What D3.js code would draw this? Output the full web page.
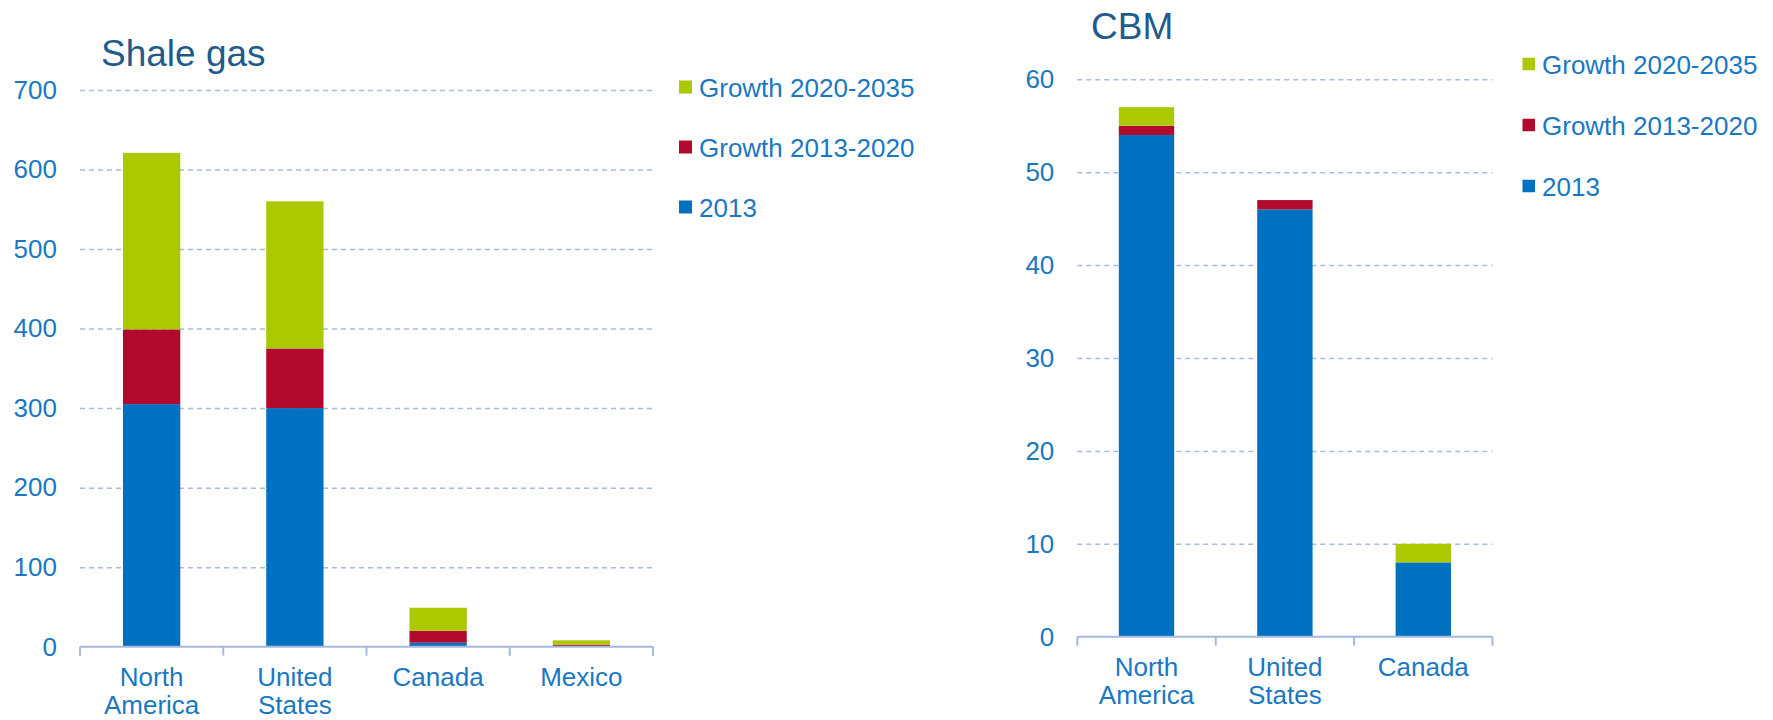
<!DOCTYPE html>
<html>
<head>
<meta charset="utf-8">
<script src="https://cdn.jsdelivr.net/npm/d3@7"></script>
<style>
  html, body { margin: 0; padding: 0; background: #ffffff; }
  svg { display: block; font-family: "Liberation Sans", Arial, sans-serif; }
</style>
</head>
<body>
<svg id="chart" width="1773" height="720"></svg>
<script>
// Series shared by both panels (stack order: bottom to top)
const seriesKeys = ["base2013", "growth1320", "growth2035"];
const seriesNames = ["2013", "Growth 2013-2020", "Growth 2020-2035"];
const seriesColors = ["#0070C0", "#B20A2F", "#ABC800"];

// Shale gas (bcm)
const shaleCategories = [["North", "America"], ["United", "States"], ["Canada"], ["Mexico"]];
const shale2013 = [305, 300, 5, 0.5];
const shaleGrowth1320 = [94, 75, 15, 2];
const shaleGrowth2035 = [222, 185, 29, 5.5];
const shaleTicks = [0, 100, 200, 300, 400, 500, 600, 700];

// Coalbed methane (bcm)
const cbmCategories = [["North", "America"], ["United", "States"], ["Canada"]];
const cbm2013 = [54, 46, 8];
const cbmGrowth1320 = [1, 1, 0];
const cbmGrowth2035 = [2, 0, 2];
const cbmTicks = [0, 10, 20, 30, 40, 50, 60];

const tickColor = "#1A78C2";
const titleColor = "#1F5B8C";
const gridColor = "#A9BADB";

const svg = d3.select("#chart");

function drawPanel(cfg) {
  const g = svg.append("g");
  const rows = cfg.categories.map((c, i) => ({
    key: c.join(" "),
    lines: c,
    base2013: cfg.v2013[i],
    growth1320: cfg.g1320[i],
    growth2035: cfg.g2035[i]
  }));

  const x = d3.scaleBand()
    .domain(rows.map(d => d.key))
    .range([cfg.left, cfg.right])
    .paddingInner(0.6)
    .paddingOuter(0.3);

  const y = d3.scaleLinear()
    .domain([0, d3.max(cfg.ticks)])
    .range([cfg.bottom, cfg.top]);

  // Dashed gridlines + tick labels
  const yAxis = g.append("g")
    .attr("transform", `translate(${cfg.left},0)`)
    .call(d3.axisLeft(y)
      .tickValues(cfg.ticks)
      .tickSize(-(cfg.right - cfg.left))
      .tickPadding(23)
      .tickFormat(d3.format("d")));
  yAxis.select(".domain").remove();
  yAxis.selectAll(".tick line")
    .attr("stroke", gridColor)
    .attr("stroke-width", 1.5)
    .attr("stroke-dasharray", "5,4")
    .attr("display", d => d === 0 ? "none" : null);
  yAxis.selectAll(".tick text")
    .attr("fill", tickColor)
    .attr("font-size", 26)
    .attr("font-family", "Liberation Sans, Arial, sans-serif");

  // Stacked bars
  const stacked = d3.stack().keys(seriesKeys)(rows);
  g.append("g").selectAll("g")
    .data(stacked)
    .join("g")
    .attr("fill", (d, i) => seriesColors[i])
    .selectAll("rect")
    .data(d => d)
    .join("rect")
    .attr("x", d => x(d.data.key))
    .attr("width", x.bandwidth())
    .attr("y", d => y(d[1]))
    .attr("height", d => Math.max(0, y(d[0]) - y(d[1])));

  // Category axis: baseline with boundary ticks
  const step = x.step();
  const axisG = g.append("g").attr("stroke", "#A6B8DC").attr("stroke-width", 2);
  axisG.append("line")
    .attr("x1", cfg.left).attr("x2", cfg.right)
    .attr("y1", y(0)).attr("y2", y(0));
  axisG.selectAll("line.bound")
    .data(d3.range(rows.length + 1))
    .join("line")
    .attr("class", "bound")
    .attr("x1", i => cfg.left + i * step)
    .attr("x2", i => cfg.left + i * step)
    .attr("y1", y(0))
    .attr("y2", y(0) + 9);

  // Category labels
  const lab = g.append("g").selectAll("text")
    .data(rows)
    .join("text")
    .attr("text-anchor", "middle")
    .attr("fill", tickColor)
    .attr("font-size", 26)
    .attr("x", d => x(d.key) + x.bandwidth() / 2)
    .attr("y", y(0) + 39.5);
  lab.selectAll("tspan")
    .data(d => d.lines.map((t, k) => ({ t, k, cx: x(d.key) + x.bandwidth() / 2 })))
    .join("tspan")
    .attr("x", d => d.cx)
    .attr("dy", d => d.k === 0 ? 0 : 28)
    .text(d => d.t);

  // Panel title
  g.append("text")
    .attr("x", cfg.titleX)
    .attr("y", cfg.titleY)
    .attr("fill", titleColor)
    .attr("font-size", 37)
    .text(cfg.title);

  // Legend (top to bottom: latest growth first)
  const legendOrder = [2, 1, 0];
  const lg = g.append("g");
  legendOrder.forEach((si, r) => {
    const cy = cfg.legendY + r * cfg.legendStep;
    lg.append("rect")
      .attr("x", cfg.legendX)
      .attr("y", cy - cfg.sq / 2)
      .attr("width", cfg.sq)
      .attr("height", cfg.sq)
      .attr("fill", seriesColors[si]);
    lg.append("text")
      .attr("x", cfg.legendX + cfg.sq + 7)
      .attr("y", cy + 9.5)
      .attr("fill", tickColor)
      .attr("font-size", 26)
      .text(seriesNames[si]);
  });
}

drawPanel({
  title: "Shale gas",
  categories: shaleCategories,
  v2013: shale2013,
  g1320: shaleGrowth1320,
  g2035: shaleGrowth2035,
  ticks: shaleTicks,
  left: 80, right: 653, top: 90, bottom: 646.7,
  titleX: 101, titleY: 66,
  legendX: 679, legendY: 87, legendStep: 60, sq: 13
});

drawPanel({
  title: "CBM",
  categories: cbmCategories,
  v2013: cbm2013,
  g1320: cbmGrowth1320,
  g2035: cbmGrowth2035,
  ticks: cbmTicks,
  left: 1077.3, right: 1492.5, top: 79.3, bottom: 636.7,
  titleX: 1091, titleY: 38.5,
  legendX: 1522.5, legendY: 64, legendStep: 61, sq: 12.5
});
</script>
</body>
</html>
